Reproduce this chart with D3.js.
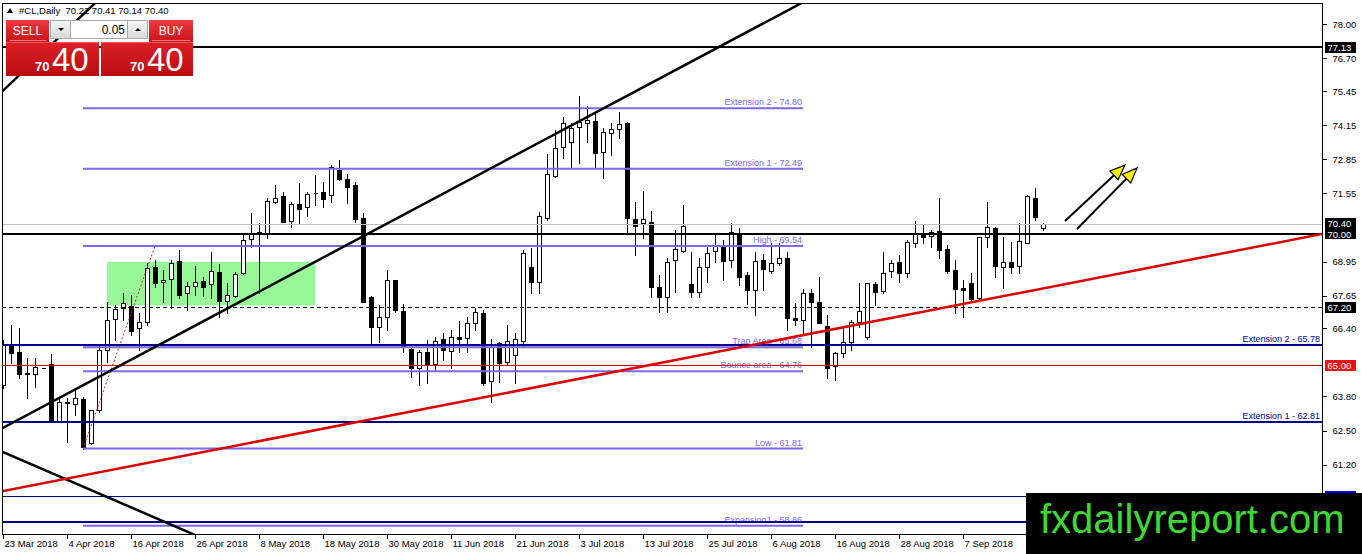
<!DOCTYPE html>
<html>
<head>
<meta charset="utf-8">
<script src="https://cdn.jsdelivr.net/npm/d3@7/dist/d3.min.js"></script>
<style>
  body { margin: 0; background: #fff; }
  svg { display: block; font-family: "Liberation Sans", Arial, sans-serif; }
</style>
</head>
<body>
<div id="chart"></div>
<script>
// Size of the page and of the plot frame
const width = 1362;
const height = 554;
const plotL = 2, plotT = 3, plotR = 1322, plotB = 534;

// Daily candles of #CL, one value per bar (bar 0 = 23 Mar 2018)
const opens = [
  64.24, 65.80, 65.50, 64.71, 64.66, 64.89, 65.04, 62.86, 63.57, 63.51,
  63.70, 62.02, 63.28, 65.57, 66.76, 67.17, 67.25, 66.41, 66.64, 68.74,
  68.17, 68.28, 68.97, 67.75, 68.01, 68.21, 68.09, 68.55, 67.44, 67.63,
  68.51, 69.81, 70.06, 70.04, 71.22, 71.45, 70.50, 71.15, 71.03, 71.56,
  71.60, 71.49, 72.44, 72.10, 71.87, 70.61, 67.59, 66.45, 66.83, 68.24,
  67.06, 65.61, 64.89, 65.50, 65.04, 65.99, 65.53, 66.07, 66.03, 66.60,
  66.98, 64.39, 65.84, 65.11, 65.38, 65.92, 68.74, 68.17, 70.61, 72.21,
  73.32, 73.51, 74.08, 74.24, 74.31, 73.13, 73.86, 74.01, 74.24, 70.57,
  70.42, 70.46, 67.98, 67.59, 69.01, 69.35, 68.09, 67.79, 68.74, 69.35,
  69.50, 69.01, 70.04, 68.43, 67.86, 69.01, 68.59, 68.89, 69.08, 66.79,
  66.72, 67.75, 67.40, 66.49, 64.96, 65.46, 65.88, 66.64, 66.07, 68.09,
  67.82, 68.59, 68.93, 68.51, 69.66, 70.00, 69.92, 70.12, 69.43, 68.63,
  67.92, 68.13, 67.56, 69.89, 70.23, 68.74, 68.93, 68.78, 69.66, 71.37, 70.22
];
const highs = [
  65.95, 66.53, 66.41, 65.27, 65.27, 64.90, 65.42, 63.74, 63.74, 64.05,
  63.78, 63.28, 65.76, 67.40, 67.29, 67.75, 67.67, 66.98, 68.89, 69.00,
  68.63, 69.01, 69.39, 68.17, 68.78, 68.36, 69.31, 68.85, 68.13, 68.55,
  70.04, 70.80, 70.42, 71.37, 71.87, 71.60, 71.22, 71.95, 71.60, 72.25,
  71.98, 72.63, 72.82, 72.29, 71.98, 70.80, 67.62, 67.29, 68.63, 68.26,
  67.33, 65.63, 65.57, 65.95, 66.07, 66.22, 66.34, 66.68, 66.83, 67.17,
  67.10, 65.99, 65.88, 66.53, 66.22, 69.39, 69.47, 70.84, 73.05, 73.97,
  74.47, 74.24, 75.27, 74.89, 74.66, 74.05, 74.24, 74.66, 74.27, 71.22,
  71.64, 70.88, 68.43, 69.08, 70.15, 71.11, 69.31, 69.08, 69.58, 70.04,
  69.77, 70.42, 70.23, 68.55, 69.31, 69.24, 69.66, 69.66, 69.31, 67.37,
  67.90, 67.90, 68.36, 66.91, 65.50, 66.41, 66.72, 68.13, 68.13, 68.17,
  69.31, 69.01, 69.20, 69.77, 70.50, 70.34, 70.15, 71.37, 69.58, 69.01,
  68.24, 68.51, 69.89, 71.22, 70.27, 69.89, 69.69, 70.42, 71.49, 71.76, 70.41
];
const lows = [
  64.12, 65.07, 64.50, 63.74, 64.16, 64.87, 62.86, 62.82, 62.06, 63.09,
  61.81, 61.98, 63.21, 65.11, 65.95, 66.72, 66.15, 65.57, 66.53, 67.98,
  67.40, 67.17, 67.56, 67.10, 67.67, 67.63, 67.56, 66.83, 66.98, 67.59,
  68.47, 69.50, 67.75, 69.85, 71.18, 70.46, 70.27, 70.42, 70.69, 71.11,
  71.03, 71.22, 72.06, 71.18, 70.46, 67.40, 65.84, 65.88, 66.34, 67.02,
  65.50, 64.54, 64.24, 64.31, 64.81, 65.19, 64.89, 65.50, 65.50, 66.34,
  64.24, 63.59, 64.35, 65.00, 64.31, 65.72, 67.75, 67.75, 70.53, 72.17,
  72.90, 72.56, 72.71, 73.51, 72.52, 72.14, 73.01, 73.66, 70.04, 69.20,
  69.85, 67.59, 67.02, 67.02, 67.79, 69.31, 67.59, 67.59, 68.17, 68.93,
  68.24, 68.74, 68.05, 67.33, 66.91, 67.86, 68.51, 68.82, 66.34, 66.53,
  66.22, 65.69, 66.60, 64.50, 64.43, 65.31, 65.57, 66.45, 65.99, 67.29,
  67.75, 68.36, 68.17, 68.36, 69.50, 69.66, 69.50, 69.08, 68.51, 66.98,
  66.83, 67.40, 67.48, 69.50, 68.36, 67.94, 68.51, 68.51, 69.66, 70.53, 70.14
];
const closes = [
  65.76, 65.46, 64.66, 64.67, 64.92, 64.89, 62.86, 63.59, 63.55, 63.74,
  61.87, 63.28, 65.57, 66.72, 67.14, 67.37, 66.30, 66.64, 68.70, 68.13,
  68.24, 68.89, 67.67, 68.01, 68.17, 67.98, 68.59, 67.44, 67.67, 68.47,
  69.77, 70.00, 70.02, 71.26, 71.37, 70.46, 71.15, 70.95, 71.53, 71.57,
  71.34, 72.56, 72.10, 71.79, 70.57, 67.40, 66.45, 66.83, 68.24, 67.10,
  65.72, 64.89, 65.50, 65.04, 65.92, 65.57, 66.07, 65.99, 66.60, 67.02,
  64.31, 65.69, 65.07, 65.92, 65.99, 69.27, 68.17, 70.69, 72.29, 73.28,
  74.24, 74.05, 74.27, 74.35, 73.09, 73.89, 74.01, 74.20, 70.61, 70.30,
  70.57, 67.98, 67.59, 68.93, 69.43, 70.30, 67.79, 68.74, 69.27, 69.54,
  68.97, 70.08, 68.36, 67.86, 68.97, 68.66, 68.89, 69.08, 66.79, 66.72,
  67.75, 67.40, 66.60, 64.89, 65.46, 65.88, 66.64, 67.06, 68.13, 67.79,
  68.51, 68.89, 68.51, 69.69, 70.00, 69.89, 70.08, 69.39, 68.59, 67.90,
  67.88, 67.52, 69.89, 70.27, 68.78, 68.93, 68.74, 69.73, 71.45, 70.65, 70.40
];

// Date labels, one every 8 bars
const dateLabels = ["23 Mar 2018", "4 Apr 2018", "16 Apr 2018", "26 Apr 2018", "8 May 2018",
  "18 May 2018", "30 May 2018", "11 Jun 2018", "21 Jun 2018", "3 Jul 2018", "13 Jul 2018",
  "25 Jul 2018", "6 Aug 2018", "16 Aug 2018", "28 Aug 2018", "7 Sep 2018"];
const barsPerLabel = 8;

// Price scale labels
const priceTicks = [78.00, 76.70, 75.45, 74.15, 72.85, 71.55, 68.95, 67.65, 66.40, 63.80, 62.50, 61.20];

// Horizontal levels drawn on the chart
const symbol = "#CL,Daily";
const bidPrice = 70.40;
const resistLevel = 77.13;
const pivotLevel = 70.00;
const supportLevel = 67.20;
const roundLevel = 65.00;
const extLevels = [65.78, 62.81];
const extNames = ["Extension 2 - 65.78", "Extension 1 - 62.81"];
const blueLevels = [60.00, 59.02];

// Fibonacci tool: levels, names, bar span and swing
const fibLevels = [74.80, 72.49, 69.54, 65.68, 64.76, 61.81, 58.86];
const fibNames = ["Extension 2 - 74.80", "Extension 1 - 72.49", "High - 69.54",
  "Trap Area - 65.68", "Bounce area - 64.76", "Low - 61.81", "Expansion1 - 58.86"];
const fibSpan = [10, 100];
const fibSwing = [[10, 61.81], [19, 69.54]];

// Trend lines as [bar, price] anchor pairs
const blackTrends = [
  [[0, 62.60], [99.6, 78.78]],
  [[0, 61.68], [23.4, 58.59]],
  [[0, 75.47], [10.875, 78.63]]
];
const redTrend = [[0, 60.19], [164.9, 70.00]];

// Consolidation box: bars and price range
const boxBars = [13, 39];
const boxPrices = [67.27, 68.94];

// Arrows: [start, tip] as [bar, price]
const arrows = [
  [[132.75, 70.50], [140.25, 72.63]],
  [[134.25, 70.19], [141.75, 72.52]]
];

const bars = opens.map((o, i) => ({ i, o, h: highs[i], l: lows[i], c: closes[i] }));

// Scales
const x = d3.scaleLinear().domain([0, 130]).range([3, 1043]);
const y = d3.scaleLinear().domain([60, 78]).range([496, 24.4]);
const px = v => Math.round(v) + 0.5;

const svg = d3.select("#chart").append("svg")
    .attr("width", width)
    .attr("height", height);

svg.append("rect").attr("width", width).attr("height", height).attr("fill", "#fff");

const defs = svg.append("defs");
defs.append("clipPath").attr("id", "plotClip")
  .append("rect")
    .attr("x", plotL + 0.5).attr("y", plotT + 0.5)
    .attr("width", plotR - plotL).attr("height", plotB - plotT);
defs.append("clipPath").attr("id", "tagClip")
  .append("rect")
    .attr("x", 0).attr("y", 0)
    .attr("width", width).attr("height", 493);

const redGrad = defs.append("linearGradient").attr("id", "redBtn").attr("x1", 0).attr("y1", 0).attr("x2", 0).attr("y2", 1);
redGrad.append("stop").attr("offset", "0%").attr("stop-color", "#ec3a3e");
redGrad.append("stop").attr("offset", "100%").attr("stop-color", "#c8141a");
const priceGrad = defs.append("linearGradient").attr("id", "redPrice").attr("x1", 0).attr("y1", 0).attr("x2", 0).attr("y2", 1);
priceGrad.append("stop").attr("offset", "0%").attr("stop-color", "#dd2026");
priceGrad.append("stop").attr("offset", "100%").attr("stop-color", "#b80d12");
const grayGrad = defs.append("linearGradient").attr("id", "grayBtn").attr("x1", 0).attr("y1", 0).attr("x2", 0).attr("y2", 1);
grayGrad.append("stop").attr("offset", "0%").attr("stop-color", "#f6f6f6");
grayGrad.append("stop").attr("offset", "100%").attr("stop-color", "#d8d8d8");

const plot = svg.append("g").attr("clip-path", "url(#plotClip)");

// Green box behind the candles
plot.append("rect")
    .attr("x", x(boxBars[0]))
    .attr("y", y(boxPrices[1]))
    .attr("width", x(boxBars[1]) - x(boxBars[0]))
    .attr("height", y(boxPrices[0]) - y(boxPrices[1]))
    .attr("fill", "#98f898");

// Candles
const candles = plot.append("g").attr("shape-rendering", "crispEdges");
candles.selectAll("line")
  .data(bars)
  .join("line")
    .attr("x1", d => px(x(d.i)))
    .attr("x2", d => px(x(d.i)))
    .attr("y1", d => Math.round(y(d.h)))
    .attr("y2", d => Math.round(y(d.l)) + 1)
    .attr("stroke", "#000");
candles.selectAll("path")
  .data(bars)
  .join("path")
    .attr("d", d => {
      const cx = Math.round(x(d.i));
      const top = px(y(Math.max(d.o, d.c)));
      const bot = px(y(Math.min(d.o, d.c)));
      return `M${cx - 2 + 0.5},${top}H${cx + 2 + 0.5}V${bot}H${cx - 2 + 0.5}Z`;
    })
    .attr("fill", d => d.c >= d.o ? "#fff" : "#000")
    .attr("stroke", "#000");

// Fibonacci levels (purple) and their names
const fib = plot.append("g");
fib.selectAll("line")
  .data(fibLevels)
  .join("line")
    .attr("x1", x(fibSpan[0]))
    .attr("x2", x(fibSpan[1]))
    .attr("y1", d => y(d))
    .attr("y2", d => y(d))
    .attr("stroke", "#7b68ee")
    .attr("stroke-width", 2);
fib.selectAll("text")
  .data(fibLevels)
  .join("text")
    .attr("x", x(fibSpan[1]) - 1)
    .attr("y", d => y(d) - 3)
    .attr("text-anchor", "end")
    .attr("font-size", 9)
    .attr("fill", "#7b68ee")
    .text((d, i) => fibNames[i]);
plot.append("line")
    .attr("x1", x(fibSwing[0][0])).attr("y1", y(fibSwing[0][1]))
    .attr("x2", x(fibSwing[1][0])).attr("y2", y(fibSwing[1][1]))
    .attr("stroke", "#cc2222")
    .attr("stroke-dasharray", "2,2");

// Horizontal levels
const hline = (p, color, w, dash) => plot.append("line")
    .attr("x1", plotL).attr("x2", plotR)
    .attr("y1", w % 2 ? px(y(p)) : Math.round(y(p)))
    .attr("y2", w % 2 ? px(y(p)) : Math.round(y(p)))
    .attr("stroke", color)
    .attr("stroke-width", w)
    .attr("stroke-dasharray", dash || null)
    .attr("shape-rendering", "crispEdges");

hline(bidPrice, "#c0c0c0", 1);
hline(resistLevel, "#000", 2);
hline(pivotLevel, "#000", 2);
hline(supportLevel, "#000", 1, "4,3");
hline(roundLevel, "#e00000", 1);
extLevels.forEach(p => hline(p, "#00008b", 2));
hline(blueLevels[0], "#00008b", 1);
hline(blueLevels[1], "#00008b", 2);

plot.selectAll("text.ext")
  .data(extLevels)
  .join("text")
    .attr("class", "ext")
    .attr("x", plotR - 2)
    .attr("y", d => y(d) - 3)
    .attr("text-anchor", "end")
    .attr("font-size", 9)
    .attr("fill", "#00008b")
    .text((d, i) => extNames[i]);

// Trend lines, extended across the plot
const lineGen = d3.line().x(d => x(d[0])).y(d => y(d[1]));
const extend = ([a, b]) => {
  const s = (b[1] - a[1]) / (b[0] - a[0]);
  return [[-20, a[1] + s * (-20 - a[0])], [200, a[1] + s * (200 - a[0])]];
};
plot.selectAll("path.trend")
  .data(blackTrends)
  .join("path")
    .attr("class", "trend")
    .attr("d", d => lineGen(extend(d)))
    .attr("fill", "none")
    .attr("stroke", "#000")
    .attr("stroke-width", 2.5);
plot.append("path")
    .attr("d", lineGen(extend(redTrend)))
    .attr("fill", "none")
    .attr("stroke", "#dd0000")
    .attr("stroke-width", 2.5);

// Arrows
arrows.forEach(([s, t]) => {
  const x0 = x(s[0]), y0 = y(s[1]), x1 = x(t[0]), y1 = y(t[1]);
  const ang = Math.atan2(y1 - y0, x1 - x0);
  const len = 15, half = 6;
  const bx = x1 - len * Math.cos(ang), by = y1 - len * Math.sin(ang);
  const nx = -Math.sin(ang), ny = Math.cos(ang);
  plot.append("line")
      .attr("x1", x0).attr("y1", y0).attr("x2", bx).attr("y2", by)
      .attr("stroke", "#000").attr("stroke-width", 2);
  plot.append("path")
      .attr("d", `M${x1},${y1}L${bx + nx * half},${by + ny * half}L${bx - nx * half},${by - ny * half}Z`)
      .attr("fill", "#ffee00")
      .attr("stroke", "#000")
      .attr("stroke-width", 1.2);
});

// Plot frame
svg.append("rect")
    .attr("x", plotL + 0.5).attr("y", plotT + 0.5)
    .attr("width", plotR - plotL).attr("height", plotB - plotT)
    .attr("fill", "none")
    .attr("stroke", "#000")
    .attr("shape-rendering", "crispEdges");

// Price axis on the right
const yAxis = svg.append("g")
    .attr("transform", `translate(${plotR + 0.5},0)`)
    .call(d3.axisRight(y).tickValues(priceTicks).tickSize(4).tickPadding(6).tickFormat(d3.format(".2f")));
yAxis.select(".domain").remove();
yAxis.selectAll("line").attr("shape-rendering", "crispEdges");
yAxis.selectAll("text").attr("font-size", 9.5).attr("font-family", "Liberation Sans, Arial, sans-serif").attr("fill", "#000");

// Date axis at the bottom
const xAxis = svg.append("g")
    .attr("transform", `translate(0,${plotB + 0.5})`)
    .call(d3.axisBottom(x)
      .tickValues(dateLabels.map((d, k) => k * barsPerLabel))
      .tickSize(4)
      .tickFormat(i => dateLabels[i / barsPerLabel]));
xAxis.select(".domain").remove();
xAxis.selectAll("line").attr("shape-rendering", "crispEdges");
xAxis.selectAll("text")
    .attr("text-anchor", "start")
    .attr("x", 1)
    .attr("y", 6)
    .attr("font-size", 9.5)
    .attr("font-family", "Liberation Sans, Arial, sans-serif")
    .attr("fill", "#000");

// Price tags on the axis (the lowest one runs under the logo)
const tags = [
  [resistLevel, "#000"], [bidPrice, "#000"], [pivotLevel, "#000"],
  [supportLevel, "#000"], [roundLevel, "#ee1111"], [blueLevels[0], "#0000ee"]
];
const tagG = svg.append("g").attr("clip-path", "url(#tagClip)");
tags.forEach(([p, bg]) => {
  const cy = y(p);
  tagG.append("rect")
      .attr("x", plotR + 3).attr("y", Math.round(cy - 5.5))
      .attr("width", 31).attr("height", 11)
      .attr("fill", bg);
  tagG.append("text")
      .attr("x", plotR + 5.5).attr("y", cy + 3.5)
      .attr("font-size", 9.5)
      .attr("fill", "#fff")
      .text(p.toFixed(2));
});

// Title
const last = bars[bars.length - 1];
svg.append("path").attr("d", "M7,13L10,8L13,13Z").attr("fill", "#000");
svg.append("text")
    .attr("x", 19).attr("y", 14)
    .attr("font-size", 9.5)
    .attr("fill", "#000")
    .attr("xml:space", "preserve")
    .text(`${symbol}  ${[last.o, last.h, last.l, last.c].map(v => v.toFixed(2)).join(" ")}`);

// One-click trading panel
const panel = svg.append("g");
const bigPart = bidPrice.toFixed(2).split(".");
panel.append("rect").attr("x", 6).attr("y", 20).attr("width", 43).attr("height", 22).attr("fill", "url(#redBtn)");
panel.append("rect").attr("x", 149).attr("y", 20).attr("width", 44).attr("height", 22).attr("fill", "url(#redBtn)");
panel.append("line").attr("x1", 10).attr("x2", 46).attr("y1", 40.5).attr("y2", 40.5).attr("stroke", "#f07a7a");
panel.append("line").attr("x1", 152).attr("x2", 190).attr("y1", 40.5).attr("y2", 40.5).attr("stroke", "#f07a7a");
panel.append("text").attr("x", 27.5).attr("y", 35).attr("text-anchor", "middle")
    .attr("font-size", 12).attr("fill", "#fff").text("SELL");
panel.append("text").attr("x", 171).attr("y", 35).attr("text-anchor", "middle")
    .attr("font-size", 12).attr("fill", "#fff").text("BUY");
panel.append("rect").attr("x", 50.5).attr("y", 20.5).attr("width", 97).attr("height", 18)
    .attr("fill", "#fff").attr("stroke", "#a8a8a8");
panel.append("rect").attr("x", 50.5).attr("y", 20.5).attr("width", 20).attr("height", 18)
    .attr("fill", "url(#grayBtn)").attr("stroke", "#a8a8a8");
panel.append("rect").attr("x", 127.5).attr("y", 20.5).attr("width", 20).attr("height", 18)
    .attr("fill", "url(#grayBtn)").attr("stroke", "#a8a8a8");
panel.append("path").attr("d", "M58,28H64L61,31Z").attr("fill", "#000");
panel.append("path").attr("d", "M135,31H141L138,28Z").attr("fill", "#000");
panel.append("text").attr("x", 125).attr("y", 34).attr("text-anchor", "end")
    .attr("font-size", 12).attr("fill", "#000").text("0.05");
[[6, 93], [101, 92]].forEach(([bx, bw]) => {
  panel.append("rect").attr("x", bx).attr("y", 42).attr("width", bw).attr("height", 34).attr("fill", "url(#redPrice)");
  panel.append("line").attr("x1", bx).attr("x2", bx + bw).attr("y1", 42.5).attr("y2", 42.5).attr("stroke", "#f05a5e");
  panel.append("text").attr("x", bx + 29).attr("y", 71).attr("font-size", 13).attr("font-weight", "bold")
      .attr("fill", "#fff").text(bigPart[0]);
  panel.append("text").attr("x", bx + 46).attr("y", 71).attr("font-size", 33)
      .attr("fill", "#fff").text(bigPart[1]);
});

// Site logo in the bottom right corner
svg.append("rect").attr("x", 1026).attr("y", 493).attr("width", 336).attr("height", 61).attr("fill", "#000");
svg.append("text")
    .attr("x", 1040).attr("y", 533)
    .attr("font-size", 40)
    .attr("fill", "#3fd832")
    .text("fxdailyreport.com");
</script>
</body>
</html>
